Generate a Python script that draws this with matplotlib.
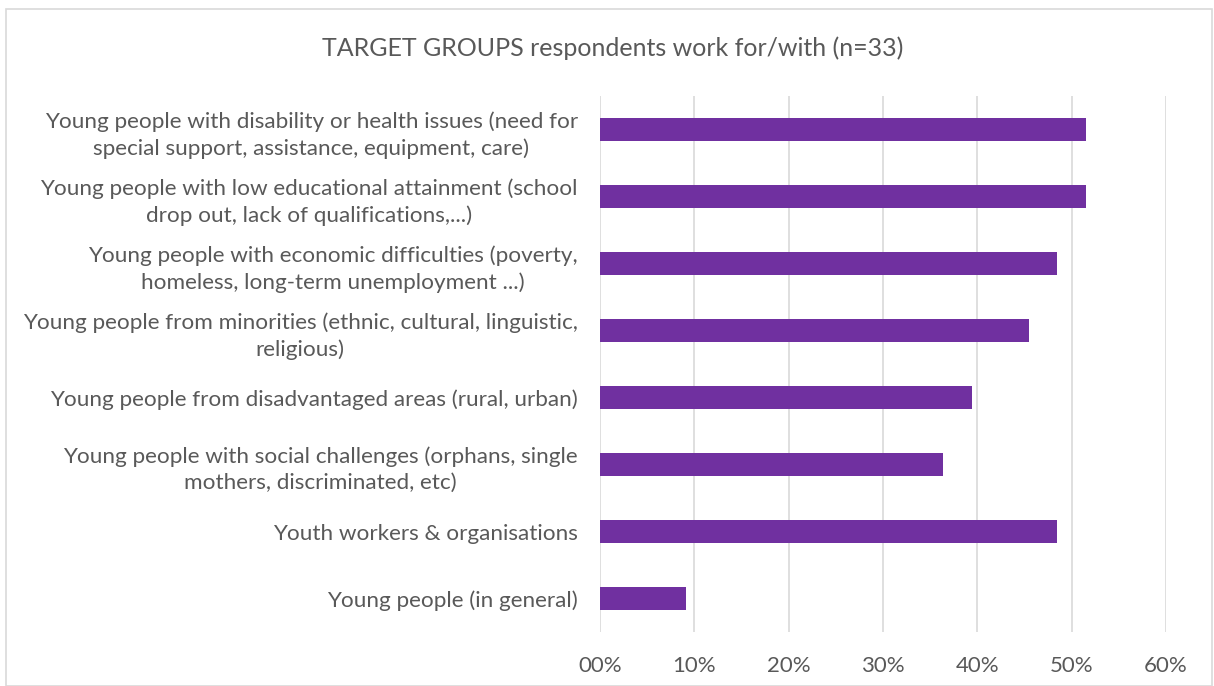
import numpy as np
import matplotlib.pyplot as plt
from matplotlib.patches import Rectangle
from matplotlib.ticker import FuncFormatter

plt.rcParams['font.family'] = ['Lato', 'DejaVu Sans']

groups = [
    'Young people with disability or health issues (need for\nspecial support, assistance, equipment, care)',
    'Young people with low educational attainment (school\ndrop out, lack of qualifications,...)',
    'Young people with economic difficulties (poverty,\nhomeless, long-term unemployment ...)',
    'Young people from minorities (ethnic, cultural, linguistic,\nreligious)',
    'Young people from disadvantaged areas (rural, urban)',
    'Young people with social challenges (orphans, single\nmothers, discriminated, etc)',
    'Youth workers & organisations',
    'Young people (in general)',
]
counts = [17, 17, 16, 15, 13, 12, 16, 3]
n_resp = 33
shares = np.array(counts) / n_resp

text_col = '#595959'
bar_col = '#7030A0'

fig = plt.figure(figsize=(12.14, 6.86), dpi=100)
ax = fig.add_axes([0.4942, 0.0787, 0.4663, 0.7813])

ypos = np.arange(len(groups))
ax.barh(ypos, shares, height=0.33, color=bar_col, zorder=3)
ax.set_ylim(len(groups) - 0.5, -0.5)
ax.set_xlim(0, 0.6)
ax.set_xticks(np.arange(0, 0.61, 0.1))
ax.xaxis.set_major_formatter(FuncFormatter(lambda v, p: '%02d%%' % round(v * 100)))
ax.set_yticks(ypos)
ax.set_yticklabels(groups, fontsize=16.2, color=text_col, linespacing=1.4)
ax.tick_params(axis='x', labelsize=16, labelcolor=text_col, length=0, pad=17)
ax.tick_params(axis='y', length=0, pad=16)
for lbl in ax.get_yticklabels():
    lbl.set_horizontalalignment('right')
    lbl.set_multialignment('center')

ax.grid(axis='x', color='#d9d9d9', linewidth=1.2, zorder=0)
for s in ax.spines.values():
    s.set_visible(False)

fig.text(0.505, 0.93, 'TARGET GROUPS respondents work for/with (n=33)',
         ha='center', va='center', fontsize=18, color=text_col)

# chart area border
fig.patches.append(Rectangle((0.005, 0.0), 0.993, 0.987, transform=fig.transFigure,
                             fill=False, edgecolor='#d9d9d9', linewidth=1.2))

fig.savefig('out.png', dpi=100)
